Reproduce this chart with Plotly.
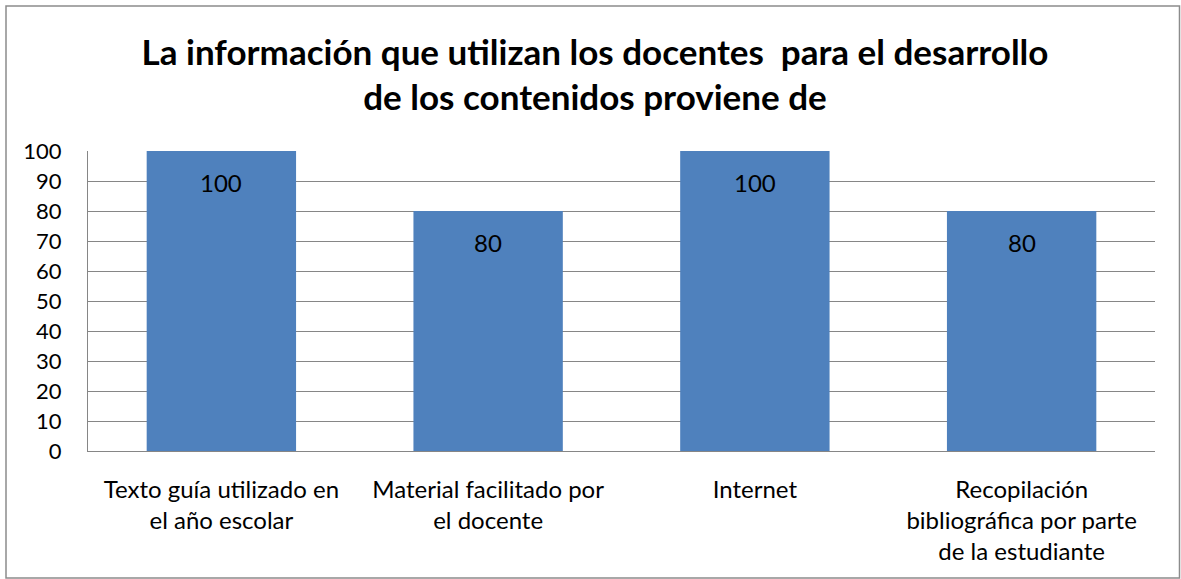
import plotly.graph_objects as go

categories = ["Texto guía utilizado en<br>el año escolar",
              "Material facilitado por<br>el docente",
              "Internet",
              "Recopilación<br>bibliográfica por parte<br>de la estudiante"]
values = [100, 80, 100, 80]
y_ticks = [0, 10, 20, 30, 40, 50, 60, 70, 80, 90, 100]
title_text = "La información que utilizan los docentes  para el desarrollo<br>de los contenidos proviene de"

W, H = 1181, 579
L, R, T, B = 88, 26, 151, 128
pw, ph = W - L - R, H - T - B
FONT = "Lato, 'Open Sans', sans-serif"

fig = go.Figure(go.Bar(x=categories, y=values, marker_color="#4F81BD",
                       marker_line_width=0, width=0.56, hoverinfo="skip"))

for c, v in zip(categories, values):
    fig.add_annotation(x=c, y=v, text=str(v), showarrow=False, yshift=-31,
                       font=dict(size=24, color="#000000", family=FONT))

fig.add_shape(type="rect", xref="paper", yref="paper",
              x0=(6 - L) / pw, x1=(1179.5 - L) / pw,
              y0=(H - B - 578) / ph, y1=(H - B - 6) / ph,
              line=dict(color="#8c8c8c", width=1.5), layer="below")

fig.update_layout(
    width=W, height=H,
    margin=dict(l=L, r=R, t=T, b=B, autoexpand=False),
    paper_bgcolor="white", plot_bgcolor="white",
    font=dict(family=FONT, color="#000000", size=24),
    title=dict(text=title_text, x=595 / W, xanchor="center", y=1 - 64.5 / H, yanchor="middle",
               font=dict(size=35, family=FONT, color="#000000", weight="bold")),
    showlegend=False,
    bargap=0.44,
)
fig.update_yaxes(range=[0, 100], tickvals=y_ticks, showgrid=True, gridcolor="#868686", gridwidth=1,
                 showline=True, linecolor="#868686", linewidth=1, ticks="",
                 ticklabelstandoff=21, tickfont=dict(size=22), zeroline=False)
fig.update_xaxes(showline=True, linecolor="#868686", linewidth=1, ticks="",
                 ticklabelstandoff=17, tickfont=dict(size=24), tickangle=0)

fig.write_html("out.html", config={"displayModeBar": False},
               post_script="document.body.style.margin='0';document.body.style.padding='0';")
